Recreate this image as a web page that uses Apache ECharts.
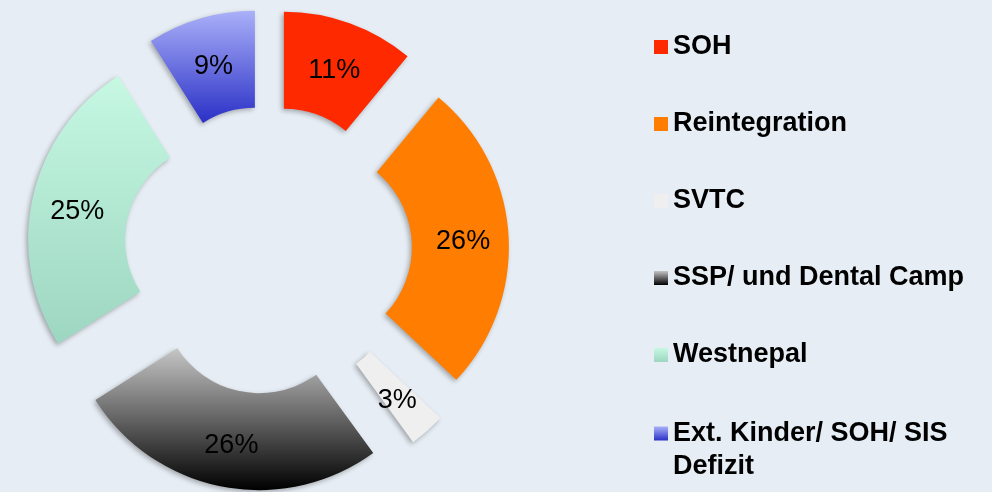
<!DOCTYPE html>
<html>
<head>
<meta charset="utf-8">
<script src="https://cdn.jsdelivr.net/npm/echarts@6/dist/echarts.min.js"></script>
<style>
html,body{margin:0;padding:0;background:#e6edf4;}
#c{width:992px;height:492px;}
</style>
</head>
<body>
<div id="c"></div>
<script>
var categories = ['SOH', 'Reintegration', 'SVTC', 'SSP/ und Dental Camp', 'Westnepal', 'Ext. Kinder/ SOH/ SIS Defizit'];
var values = [11, 26, 3, 26, 25, 9];
var colors = [
  '#ff2900',
  '#ff7d00',
  '#efefef',
  {type:'linear',x:0,y:0,x2:0,y2:1,colorStops:[{offset:0,color:'#c6c6c6'},{offset:1,color:'#000000'}]},
  {type:'linear',x:0,y:0,x2:0,y2:1,colorStops:[{offset:0,color:'#c6f8e2'},{offset:1,color:'#9dd6c1'}]},
  {type:'linear',x:0,y:0,x2:0,y2:1,colorStops:[{offset:0,color:'#aab0f8'},{offset:1,color:'#2a30c6'}]}
];

var data = categories.map(function (name, i) {
  return { name: name, value: values[i], selected: true, itemStyle: { color: colors[i] } };
});

var chart = echarts.init(document.getElementById('c'), null, {renderer:'canvas'});
var legendText = { fontFamily: 'Liberation Sans, Arial, sans-serif', fontWeight: 'bold', fontSize: 27, color: '#000' };
chart.setOption({
  backgroundColor: '#e6edf4',
  animation: false,
  legend: [{
    orient: 'vertical',
    left: 654,
    top: 32,
    padding: 0,
    itemWidth: 14,
    itemHeight: 14,
    itemGap: 47,
    icon: 'rect',
    selectedMode: false,
    data: categories.slice(0, 5),
    textStyle: Object.assign({ lineHeight: 30 }, legendText)
  }, {
    orient: 'vertical',
    left: 654,
    top: 384,
    padding: 0,
    itemWidth: 14,
    itemHeight: 14,
    icon: 'rect',
    selectedMode: false,
    data: categories.slice(5),
    formatter: function (n) { return '\n' + n.replace(' SIS ', ' SIS\n'); },
    textStyle: Object.assign({ lineHeight: 33 }, legendText)
  }],
  series: [{
    type: 'pie',
    center: [268, 250],
    radius: [97, 194],
    startAngle: 90,
    clockwise: true,
    selectedMode: 'multiple',
    selectedOffset: 47,
    avoidLabelOverlap: false,
    emphasis: { disabled: true },
    itemStyle: {
      shadowBlur: 5,
      shadowColor: 'rgba(0,0,0,0.3)',
      shadowOffsetX: -2,
      shadowOffsetY: 2
    },
    select: { itemStyle: { shadowBlur: 5, shadowColor: 'rgba(0,0,0,0.3)', shadowOffsetX: -2, shadowOffsetY: 2 } },
    label: {
      show: true,
      position: 'inside',
      formatter: '{p|{c}%}',
      rich: {
        p: {
          padding: [8, 0, 0, 0],
          fontFamily: 'Liberation Sans, Arial, sans-serif',
          fontSize: 27,
          color: '#000'
        }
      },
      fontFamily: 'Liberation Sans, Arial, sans-serif',
      fontSize: 27,
      color: '#000'
    },
    labelLine: { show: false },
    data: data
  }]
});
</script>
</body>
</html>
